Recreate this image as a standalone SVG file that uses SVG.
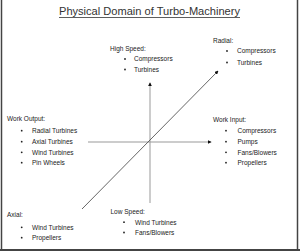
<svg xmlns="http://www.w3.org/2000/svg" width="300" height="252" viewBox="0 0 300 252">
<defs>
<marker id="ah" viewBox="0 0 6 6" refX="5" refY="3" markerWidth="4" markerHeight="4" orient="auto" markerUnits="userSpaceOnUse"><path d="M0,0 L6,3 L0,6 z" fill="#111"/></marker>
<style>
text{font-family:"Liberation Sans",Arial,sans-serif;fill:#222;font-size:6.5px}
.t{font-size:11px;fill:#333}
.ax{stroke:#999;stroke-width:1;fill:none}
.dg{stroke:#555;stroke-width:0.9;fill:none}
.b{fill:#222}
</style>
</defs>
<rect width="300" height="252" fill="#fff"/>
<g id="border" stroke="#444" fill="none">
<line x1="1.5" y1="0" x2="1.5" y2="250" stroke-width="1.5"/>
<line x1="297.5" y1="0" x2="297.5" y2="250" stroke-width="1.5"/>
<line x1="0" y1="250" x2="300" y2="250" stroke-width="2"/>
</g>
<g id="title">
<text class="t" x="59" y="15" textLength="181" lengthAdjust="spacingAndGlyphs">Physical Domain of Turbo-Machinery</text>
<line x1="59" y1="17.5" x2="240" y2="17.5" stroke="#333" stroke-width="0.8"/>
</g>
<g id="connectors">
<line class="ax" x1="150" y1="203" x2="150" y2="83" marker-end="url(#ah)"/>
<line class="ax" x1="88" y1="142" x2="211" y2="142" marker-end="url(#ah)"/>
<line class="dg" x1="82" y1="209" x2="218" y2="71" marker-end="url(#ah)"/>
</g>
<g id="high-speed">
<text x="110" y="50.5">High Speed:</text>
<circle class="b" cx="125" cy="59" r="0.9"/><text x="134" y="61">Compressors</text>
<circle class="b" cx="125" cy="69.5" r="0.9"/><text x="134" y="71.5">Turbines</text>
</g>
<g id="radial">
<text x="213" y="43">Radial:</text>
<circle class="b" cx="227" cy="51" r="0.9"/><text x="237" y="53">Compressors</text>
<circle class="b" cx="227" cy="62.5" r="0.9"/><text x="237" y="64.5">Turbines</text>
</g>
<g id="work-output">
<text x="7" y="121">Work Output:</text>
<circle class="b" cx="21.7" cy="130.7" r="0.9"/><text x="32" y="133">Radial Turbines</text>
<circle class="b" cx="21.7" cy="141.7" r="0.9"/><text x="32" y="144">Axial Turbines</text>
<circle class="b" cx="21.7" cy="152.3" r="0.9"/><text x="32" y="154.5">Wind Turbines</text>
<circle class="b" cx="21.7" cy="162.7" r="0.9"/><text x="32" y="165">Pin Wheels</text>
</g>
<g id="work-input">
<text x="213" y="122">Work Input:</text>
<circle class="b" cx="226" cy="130.7" r="0.9"/><text x="237.5" y="133">Compressors</text>
<circle class="b" cx="226" cy="141.7" r="0.9"/><text x="237.5" y="144">Pumps</text>
<circle class="b" cx="226" cy="152.3" r="0.9"/><text x="237.5" y="154.5">Fans/Blowers</text>
<circle class="b" cx="226" cy="162.7" r="0.9"/><text x="237.5" y="165">Propellers</text>
</g>
<g id="axial">
<text x="7" y="217">Axial:</text>
<circle class="b" cx="21.7" cy="227.3" r="0.9"/><text x="32" y="229.5">Wind Turbines</text>
<circle class="b" cx="21.7" cy="237.7" r="0.9"/><text x="32" y="240">Propellers</text>
</g>
<g id="low-speed">
<text x="110.5" y="214">Low Speed:</text>
<circle class="b" cx="124" cy="222.2" r="0.9"/><text x="135" y="224.5">Wind Turbines</text>
<circle class="b" cx="124" cy="232.5" r="0.9"/><text x="135" y="235">Fans/Blowers</text>
</g>
</svg>
